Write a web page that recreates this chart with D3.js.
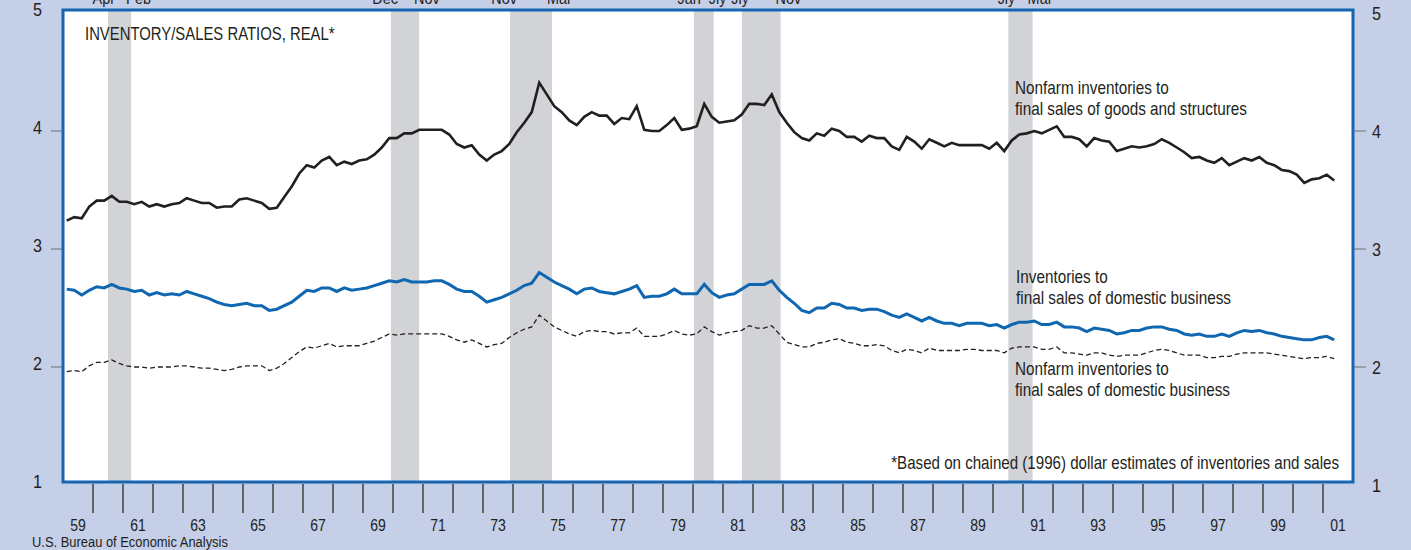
<!DOCTYPE html>
<html lang="en">
<head>
  <meta charset="UTF-8">
  <title>Inventory/Sales Ratios, Real</title>
  <script src="https://d3js.org/d3.v7.min.js"></script>
  <style>
    body, html {
      margin: 0;
      padding: 0;
      background: #c5cfe7;
    }
    svg {
      display: block;
      font-family: "Liberation Sans", Arial, Helvetica, sans-serif;
    }
  </style>
</head>
<body>
  <svg id="svg" width="1411" height="550"></svg>
  <script>
    // quarterly ratios, 1959Q1 .. 2001Q2
    const firstYear = 1959

    const goodsStructures = [
      3.24, 3.27, 3.26, 3.36, 3.41, 3.41, 3.45, 3.40, 3.40, 3.38,
      3.40, 3.36, 3.38, 3.36, 3.38, 3.39, 3.43, 3.41, 3.39, 3.39,
      3.35, 3.36, 3.36, 3.42, 3.43, 3.41, 3.39, 3.34, 3.35, 3.44,
      3.53, 3.64, 3.71, 3.69, 3.75, 3.78, 3.71, 3.74, 3.72, 3.75,
      3.76, 3.80, 3.86, 3.94, 3.94, 3.98, 3.98, 4.01, 4.01, 4.01,
      4.01, 3.97, 3.89, 3.86, 3.88, 3.80, 3.75, 3.80, 3.83, 3.89,
      3.99, 4.07, 4.16, 4.41, 4.31, 4.21, 4.16, 4.09, 4.05, 4.12,
      4.16, 4.13, 4.13, 4.06, 4.11, 4.10, 4.21, 4.01, 4.00, 4.00,
      4.05, 4.11, 4.01, 4.02, 4.04, 4.23,
      4.12, 4.07, 4.08, 4.09, 4.14, 4.23, 4.23, 4.22, 4.31, 4.16,
      4.07, 3.99, 3.94, 3.92, 3.98, 3.96, 4.02, 4.00, 3.95, 3.95,
      3.91, 3.96, 3.94, 3.94, 3.87, 3.84, 3.95, 3.91, 3.85, 3.93,
      3.90, 3.87, 3.90, 3.88, 3.88, 3.88, 3.88, 3.85, 3.90, 3.83,
      3.92, 3.97, 3.98, 4.00, 3.98, 4.01, 4.04, 3.95, 3.95, 3.93,
      3.87, 3.94, 3.92, 3.91, 3.83, 3.85, 3.87, 3.86, 3.87, 3.89,
      3.93, 3.90, 3.86, 3.82, 3.77, 3.78, 3.75, 3.73, 3.77, 3.71,
      3.74, 3.77, 3.75, 3.78, 3.73, 3.71, 3.67, 3.66, 3.63, 3.56,
      3.59, 3.60, 3.63, 3.58
    ]

    const domesticBusiness = [
      2.66, 2.65, 2.61, 2.65, 2.68, 2.67, 2.70, 2.67, 2.66, 2.64,
      2.65, 2.61, 2.63, 2.61, 2.62, 2.61, 2.64, 2.62, 2.60, 2.58,
      2.55, 2.53, 2.52, 2.53, 2.54, 2.52, 2.52, 2.48, 2.49, 2.52,
      2.55, 2.60, 2.65, 2.64, 2.67, 2.67, 2.64, 2.67, 2.65, 2.66,
      2.67, 2.69, 2.71, 2.73, 2.72, 2.74, 2.72, 2.72, 2.72, 2.73,
      2.73, 2.70, 2.66, 2.64, 2.64, 2.60, 2.55, 2.57, 2.59, 2.62,
      2.65, 2.69, 2.71, 2.80, 2.76, 2.72, 2.69, 2.66, 2.62, 2.66,
      2.67, 2.64, 2.63, 2.62, 2.64, 2.66, 2.69, 2.59, 2.60, 2.60,
      2.62, 2.66, 2.62, 2.62, 2.62, 2.70,
      2.63, 2.59, 2.61, 2.62, 2.66, 2.70, 2.70, 2.70, 2.73, 2.65,
      2.59, 2.54, 2.48, 2.46, 2.50, 2.50, 2.54, 2.53, 2.50, 2.50,
      2.48, 2.49, 2.49, 2.47, 2.44, 2.42, 2.45, 2.42, 2.39, 2.42,
      2.39, 2.37, 2.37, 2.35, 2.37, 2.37, 2.37, 2.35, 2.36, 2.33,
      2.36, 2.38, 2.38, 2.39, 2.36, 2.36, 2.38, 2.34, 2.34, 2.33,
      2.30, 2.33, 2.32, 2.31, 2.28, 2.29, 2.31, 2.31, 2.33, 2.34,
      2.34, 2.32, 2.31, 2.28, 2.27, 2.28, 2.26, 2.26, 2.28, 2.26,
      2.29, 2.31, 2.30, 2.31, 2.29, 2.28, 2.26, 2.25, 2.24, 2.23,
      2.23, 2.25, 2.26, 2.23
    ]

    const nonfarmDomestic = [
      1.96, 1.97, 1.96, 2.01, 2.04, 2.04, 2.06, 2.03, 2.01, 2.00,
      2.00, 1.99, 2.00, 2.00, 2.00, 2.01, 2.01, 2.00, 1.99, 1.99,
      1.98, 1.97, 1.98, 2.00, 2.01, 2.01, 2.01, 1.97, 1.99, 2.03,
      2.08, 2.13, 2.17, 2.16, 2.18, 2.20, 2.17, 2.18, 2.18, 2.18,
      2.20, 2.22, 2.25, 2.28, 2.27, 2.28, 2.28, 2.28, 2.28, 2.28,
      2.28, 2.26, 2.23, 2.21, 2.23, 2.20, 2.17, 2.19, 2.20, 2.25,
      2.29, 2.32, 2.34, 2.44, 2.39, 2.34, 2.31, 2.28, 2.26, 2.30,
      2.31, 2.30, 2.30, 2.28, 2.29, 2.29, 2.33, 2.26, 2.26, 2.26,
      2.28, 2.31, 2.28, 2.27, 2.28, 2.34,
      2.30, 2.27, 2.29, 2.30, 2.31, 2.35, 2.33, 2.33, 2.35, 2.28,
      2.21, 2.19, 2.17, 2.17, 2.20, 2.21, 2.23, 2.24, 2.21, 2.20,
      2.18, 2.18, 2.19, 2.18, 2.14, 2.12, 2.15, 2.14, 2.12, 2.16,
      2.14, 2.14, 2.14, 2.14, 2.15, 2.15, 2.14, 2.14, 2.14, 2.12,
      2.16, 2.17, 2.17, 2.17, 2.15, 2.15, 2.17, 2.12, 2.12, 2.11,
      2.10, 2.12, 2.12, 2.10, 2.09, 2.10, 2.10, 2.10, 2.12, 2.14,
      2.15, 2.14, 2.12, 2.10, 2.10, 2.10, 2.08, 2.08, 2.09, 2.09,
      2.11, 2.12, 2.12, 2.12, 2.12, 2.11, 2.10, 2.09, 2.08, 2.07,
      2.08, 2.08, 2.09, 2.07
    ]

    // recession shading (fractional years) and the month names printed above
    const recessionStart = [1960.50, 1969.93, 1973.90, 1980.03, 1981.63, 1990.51]
    const recessionEnd = [1961.27, 1970.87, 1975.30, 1980.69, 1982.92, 1991.32]
    const recessionStartLabel = ["Apr", "Dec", "Nov", "Jan", "Jly", "Jly"]
    const recessionEndLabel = ["Feb", "Nov", "Mar", "Jly", "Nov", "Mar"]

    const yTickValues = [1, 2, 3, 4, 5]
    const xTickYears = d3.range(1960, 2002)
    const xLabelYears = d3.range(1959, 2002, 2)

    const svg = d3.select("svg")

    const x = d3.scaleLinear().domain([1959, 2002]).range([63, 1353])
    const y = d3.scaleLinear().domain([1, 5]).range([485, 13])

    const frameTop = y(5) - 3
    const frameBottom = y(1) - 3

    // the original uses a narrow Helvetica; squeeze Liberation Sans to match
    const squeeze = 0.85
    const place = (sel, fx, fy) =>
      sel.attr("transform", (d, i) => `translate(${fx(d, i)},${fy(d, i)}) scale(${squeeze},1)`)

    // white plot area
    svg.append("rect")
      .attr("x", x(1959))
      .attr("y", frameTop)
      .attr("width", x(2002) - x(1959))
      .attr("height", frameBottom - frameTop)
      .attr("fill", "white")

    // recession bars
    const recessions = recessionStart.map((s, i) => ({
      start: s, end: recessionEnd[i],
      startLabel: recessionStartLabel[i], endLabel: recessionEndLabel[i]
    }))

    svg.append("g")
      .selectAll("rect")
      .data(recessions)
      .join("rect")
      .attr("x", d => x(d.start))
      .attr("y", frameTop)
      .attr("width", d => x(d.end) - x(d.start))
      .attr("height", frameBottom - frameTop)
      .attr("fill", "#d1d3d6")

    const recLabels = svg.append("g")
      .attr("font-size", "17px")
      .attr("fill", "#231f20")
    recLabels.selectAll(".rs")
      .data(recessions)
      .join("text")
      .attr("class", "rs")
      .attr("text-anchor", "end")
      .text(d => d.startLabel)
      .call(place, d => x(d.start) + 7, () => 4)
    recLabels.selectAll(".re")
      .data(recessions)
      .join("text")
      .attr("class", "re")
      .attr("text-anchor", "start")
      .text(d => d.endLabel)
      .call(place, d => x(d.end) - 5, () => 4)

    // series
    const toPoints = arr => arr.map((v, i) => ({ t: firstYear + i / 4 + 0.125, v }))
    const line = d3.line().x(d => x(d.t)).y(d => y(d.v))

    svg.append("path")
      .datum(toPoints(nonfarmDomestic))
      .attr("d", line)
      .attr("fill", "none")
      .attr("stroke", "#231f20")
      .attr("stroke-width", 1.3)
      .attr("stroke-dasharray", "5,3")

    svg.append("path")
      .datum(toPoints(domesticBusiness))
      .attr("d", line)
      .attr("fill", "none")
      .attr("stroke", "#0f67b1")
      .attr("stroke-width", 3)

    svg.append("path")
      .datum(toPoints(goodsStructures))
      .attr("d", line)
      .attr("fill", "none")
      .attr("stroke", "#231f20")
      .attr("stroke-width", 2.6)

    // frame
    svg.append("rect")
      .attr("x", x(1959))
      .attr("y", frameTop)
      .attr("width", x(2002) - x(1959))
      .attr("height", frameBottom - frameTop)
      .attr("fill", "none")
      .attr("stroke", "#1565b0")
      .attr("stroke-width", 3)

    // y axes, left and right
    const yAxisLeft = svg.append("g")
    yAxisLeft.selectAll("line")
      .data(yTickValues.filter(v => v > 1 && v < 5))
      .join("line")
      .attr("x1", x(1959) - 12).attr("x2", x(1959) - 1)
      .attr("y1", d => y(d)).attr("y2", d => y(d))
      .attr("stroke", "#6d6e71").attr("stroke-width", 1)
    yAxisLeft.selectAll("text")
      .data(yTickValues)
      .join("text")
      .attr("text-anchor", "end")
      .attr("font-size", "19px")
      .attr("fill", "#231f20")
      .text(d => d)
      .call(place, () => 42, d => y(d) + 3)

    const yAxisRight = svg.append("g")
    yAxisRight.selectAll("line")
      .data(yTickValues.filter(v => v > 1 && v < 5))
      .join("line")
      .attr("x1", x(2002) + 1).attr("x2", x(2002) + 13)
      .attr("y1", d => y(d)).attr("y2", d => y(d))
      .attr("stroke", "#6d6e71").attr("stroke-width", 1)
    yAxisRight.selectAll("text")
      .data(yTickValues)
      .join("text")
      .attr("font-size", "19px")
      .attr("fill", "#231f20")
      .text(d => d)
      .call(place, () => 1372, d => y(d) + 7)

    // x axis
    svg.append("g")
      .selectAll("line")
      .data(xTickYears)
      .join("line")
      .attr("x1", d => x(d)).attr("x2", d => x(d))
      .attr("y1", frameBottom + 2).attr("y2", frameBottom + 31)
      .attr("stroke", "#414042")
      .attr("stroke-width", 1.5)

    svg.append("g")
      .selectAll("text")
      .data(xLabelYears)
      .join("text")
      .attr("text-anchor", "middle")
      .attr("font-size", "16.5px")
      .attr("fill", "#231f20")
      .text(d => String(d % 100).padStart(2, "0"))
      .call(place, d => x(d + 0.5), () => 531)

    // texts
    const texts = svg.append("g").attr("fill", "#231f20")
    texts.append("text")
      .attr("font-size", "17.5px")
      .text("INVENTORY/SALES RATIOS, REAL*")
      .call(place, () => 85, () => 40)

    const notes = [
      { x: 1015, y: 94, lines: ["Nonfarm inventories to", "final sales of goods and structures"] },
      { x: 1016, y: 283, lines: ["Inventories to", "final sales of domestic business"] },
      { x: 1015, y: 375, lines: ["Nonfarm inventories to", "final sales of domestic business"] }
    ]
    notes.forEach(n => {
      const t = texts.append("text")
        .attr("font-size", "18px")
        .call(place, () => n.x, () => n.y)
      n.lines.forEach((l, i) => {
        t.append("tspan").attr("x", 0).attr("dy", i === 0 ? 0 : 21.5).text(l)
      })
    })

    texts.append("text")
      .attr("text-anchor", "end")
      .attr("font-size", "17.8px")
      .text("*Based on chained (1996) dollar estimates of inventories and sales")
      .call(place, () => 1339, () => 469)

    texts.append("text")
      .attr("font-size", "15.2px")
      .text("U.S. Bureau of Economic Analysis")
      .call(place, () => 32, () => 547)
  </script>
</body>
</html>
